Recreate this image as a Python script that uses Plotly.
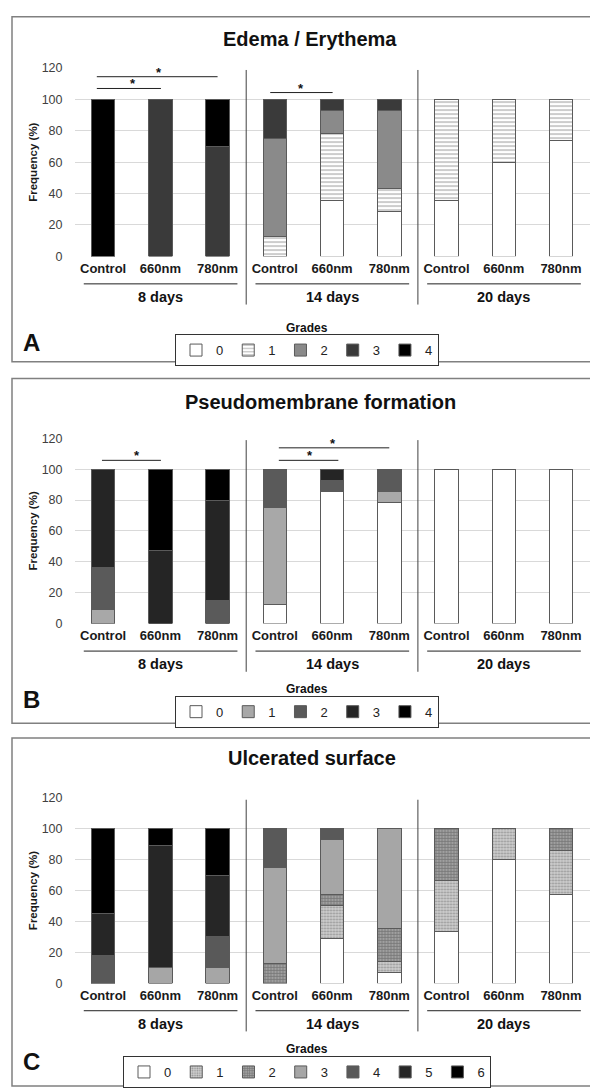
import plotly.graph_objects as go

W, H = 590, 1088

groups = ["8 days", "14 days", "20 days"]
treatments = ["Control", "660nm", "780nm"]
x_group = [g for g in groups for _ in treatments]
x_treat = treatments * 3
x_ids = [f"{g} | {t}" for g, t in zip(x_group, x_treat)]
y_ticks = [0, 20, 40, 60, 80, 100, 120]

# Panel A - Edema / Erythema (frequency %, grades 0-4)
edema_g0 = [0, 0, 0, 0, 35.7, 28.6, 35.7, 60, 74]
edema_g1 = [0, 0, 0, 12.5, 42.9, 14.3, 64.3, 40, 26]
edema_g2 = [0, 0, 0, 62.5, 14.3, 50, 0, 0, 0]
edema_g3 = [0, 100, 70, 25, 7.1, 7.1, 0, 0, 0]
edema_g4 = [100, 0, 30, 0, 0, 0, 0, 0, 0]

# Panel B - Pseudomembrane formation (grades 0-4)
pseudo_g0 = [0, 0, 0, 12.5, 85.7, 78.6, 100, 100, 100]
pseudo_g1 = [9, 0, 0, 62.5, 0, 7.1, 0, 0, 0]
pseudo_g2 = [27, 0, 15, 25, 7.2, 14.3, 0, 0, 0]
pseudo_g3 = [64, 47, 65, 0, 7.1, 0, 0, 0, 0]
pseudo_g4 = [0, 53, 20, 0, 0, 0, 0, 0, 0]

# Panel C - Ulcerated surface (grades 0-6)
ulcer_g0 = [0, 0, 0, 0, 28.6, 7.1, 33.3, 80, 57.1]
ulcer_g1 = [0, 0, 0, 0, 21.4, 7.2, 33.4, 20, 28.6]
ulcer_g2 = [0, 0, 0, 12.5, 7.1, 21.4, 33.3, 0, 14.3]
ulcer_g3 = [0, 10, 10, 62.5, 35.8, 64.3, 0, 0, 0]
ulcer_g4 = [18, 0, 20, 25, 7.1, 0, 0, 0, 0]
ulcer_g5 = [27, 79, 40, 0, 0, 0, 0, 0, 0]
ulcer_g6 = [55, 11, 30, 0, 0, 0, 0, 0, 0]

# significance brackets: (x start idx, x end idx, y level, star idx)
sig_A = [(-0.11, 1.01, 107, 0.43), (-0.11, 2.0, 114.5, 0.89), (2.92, 4.01, 104.4, 3.45)]
sig_B = [(-0.02, 1.01, 105.7, 0.5), (3.07, 5.0, 113.8, 4.01), (3.07, 4.11, 105.7, 3.62)]

FONT = "Liberation Sans, Arial, sans-serif"
LINE = dict(color="#5a5a5a", width=1)


def py(p):
    return 1 - p / H


def pxx(p):
    return p / W


panels = [
    dict(title="Edema / Erythema", letter="A",
         grades=[
             ("0", edema_g0, dict(color="white")),
             ("1", edema_g1, dict(color="white", pattern=dict(shape="-", fgcolor="#6e6e6e", bgcolor="white", size=4, solidity=0.35))),
             ("2", edema_g2, dict(color="#8a8a8a")),
             ("3", edema_g3, dict(color="#3a3a3a")),
             ("4", edema_g4, dict(color="#000000")),
         ],
         sig=sig_A, top=62, bottom=253, frame=(10, 360), title_y=32, letter_y=341,
         grades_y=326, legend_top=332, title_x=310),
    dict(title="Pseudomembrane formation", letter="B",
         grades=[
             ("0", pseudo_g0, dict(color="white")),
             ("1", pseudo_g1, dict(color="#a8a8a8")),
             ("2", pseudo_g2, dict(color="#5a5a5a")),
             ("3", pseudo_g3, dict(color="#252525")),
             ("4", pseudo_g4, dict(color="#000000")),
         ],
         sig=sig_B, top=437.7, bottom=625.7, frame=(377, 727), title_y=401, letter_y=703,
         grades_y=692, legend_top=699, title_x=320),
    dict(title="Ulcerated surface", letter="C",
         grades=[
             ("0", ulcer_g0, dict(color="white")),
             ("1", ulcer_g1, dict(color="#d0d0d0", pattern=dict(shape=".", fgcolor="#555555", bgcolor="#d0d0d0", size=3, solidity=0.4))),
             ("2", ulcer_g2, dict(color="#8a8a8a", pattern=dict(shape="+", fgcolor="#4a4a4a", bgcolor="#a0a0a0", size=3, solidity=0.45))),
             ("3", ulcer_g3, dict(color="#a6a6a6")),
             ("4", ulcer_g4, dict(color="#595959")),
             ("5", ulcer_g5, dict(color="#262626")),
             ("6", ulcer_g6, dict(color="#000000")),
         ],
         sig=[], top=802.7, bottom=990.7, frame=(742, 1095), title_y=762, letter_y=1070,
         grades_y=1058, legend_top=1065, title_x=312),
]

fig = go.Figure()
shapes = []
annotations = []
layout = {}

for i, p in enumerate(panels):
    n = "" if i == 0 else str(i + 1)
    xa, ya = "x" + n, "y" + n
    leg = "legend" + n
    for name, vals, mk in p["grades"]:
        mk = dict(mk)
        mk["line"] = LINE
        fig.add_trace(go.Bar(
            x=x_ids, y=vals, name=name, marker=mk,
            xaxis=xa, yaxis=ya, legend=leg, width=0.41,
        ))
    dom_h = p["bottom"] - p["top"]
    layout["xaxis" + n] = dict(
        type="category", domain=[pxx(74.5), pxx(589.6)], anchor=ya,
        tickvals=x_ids, ticktext=x_treat, ticklabelstandoff=3,
        showgrid=False, showline=False, ticks="",
        tickfont=dict(family=FONT, size=13, color="#1a1a1a", weight="bold"),
    )
    layout["yaxis" + n] = dict(
        domain=[py(p["bottom"]), py(p["top"])], anchor=xa, range=[0, 120],
        tickvals=y_ticks, showline=False, zeroline=False, ticklabelstandoff=11,
        gridcolor="#d9d9d9", gridwidth=1,
        tickfont=dict(family=FONT, size=12.5, color="#404040"),
        title=dict(text="Frequency (%)", standoff=1,
                   font=dict(family=FONT, size=11.5, color="#1a1a1a", weight="bold")),
    )
    layout[leg] = dict(
        orientation="h", x=307 / W, xanchor="center", y=py(p["legend_top"]), yanchor="top",
        bordercolor="#333333", borderwidth=1, bgcolor="white",
        font=dict(family=FONT, size=13, color="#222222"), itemwidth=30,
        traceorder="normal",
    )
    # frame
    shapes.append(dict(type="rect", xref="paper", yref="paper", x0=pxx(12), x1=pxx(594),
                       y0=py(p["frame"][1]), y1=py(p["frame"][0]),
                       line=dict(color="#808080", width=1.5)))
    # group separators, underlines, group labels
    sep_low = -49 / dom_h
    under = -28 / dom_h
    for g in (1, 2):
        shapes.append(dict(type="line", xref=xa + " domain", yref=ya + " domain",
                           x0=g / 3, x1=g / 3, y0=sep_low, y1=0.99,
                           line=dict(color="#404040", width=1)))
    for g, gname in enumerate(groups):
        shapes.append(dict(type="line", xref=xa + " domain", yref=ya + " domain",
                           x0=g / 3 + 0.018, x1=(g + 1) / 3 - 0.017, y0=under, y1=under,
                           line=dict(color="#202020", width=1)))
        annotations.append(dict(xref=xa + " domain", yref=ya + " domain",
                                x=(g + 0.5) / 3, y=-41 / dom_h, text=gname, showarrow=False,
                                xanchor="center", yanchor="middle",
                                font=dict(family=FONT, size=14.5, color="#111111", weight="bold")))
    # significance
    for x0, x1, yv, sx in p["sig"]:
        shapes.append(dict(type="line", xref=xa + " domain", yref=ya,
                           x0=(x0 + 0.5) / 9, x1=(x1 + 0.5) / 9, y0=yv, y1=yv,
                           line=dict(color="#202020", width=1)))
        annotations.append(dict(xref=xa + " domain", yref=ya, x=(sx + 0.5) / 9, y=yv,
                                text="*", showarrow=False, yanchor="bottom", yshift=-5,
                                font=dict(family=FONT, size=13, color="#111111", weight="bold")))
    # title, letter, Grades
    annotations.append(dict(xref="paper", yref="paper", x=pxx(p["title_x"]), y=py(p["title_y"]),
                            text=p["title"], showarrow=False, xanchor="center", yanchor="middle",
                            font=dict(family=FONT, size=20, color="#111111", weight="bold")))
    annotations.append(dict(xref="paper", yref="paper", x=pxx(21), y=py(p["letter_y"]),
                            text=p["letter"], showarrow=False, xanchor="left", yanchor="middle",
                            font=dict(family=FONT, size=24, color="#111111", weight="bold")))
    annotations.append(dict(xref="paper", yref="paper", x=pxx(307), y=py(p["grades_y"]),
                            text="Grades", showarrow=False, xanchor="center", yanchor="middle",
                            font=dict(family=FONT, size=12, color="#111111", weight="bold")))

fig.update_layout(
    width=W, height=H, margin=dict(l=0, r=0, t=0, b=0),
    paper_bgcolor="white", plot_bgcolor="white",
    barmode="stack", showlegend=True,
    shapes=shapes, annotations=annotations,
    **layout,
)

fig.write_html(
    "out.html",
    config={"displayModeBar": False},
    post_script="document.body.style.margin='0';document.body.style.padding='0';"
                "document.documentElement.style.overflow='hidden';",
)
